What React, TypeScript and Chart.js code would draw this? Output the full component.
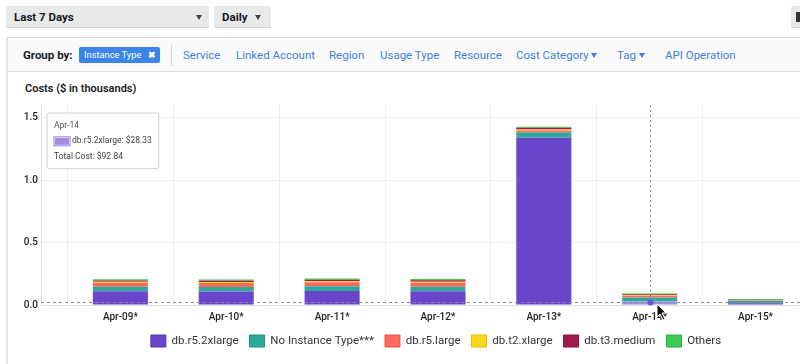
import React, { useEffect, useRef } from "react";
import { Chart, registerables, Tooltip } from "chart.js";

Chart.register(...registerables);

// ---------- data ----------
const categories = ["Apr-09*", "Apr-10*", "Apr-11*", "Apr-12*", "Apr-13*", "Apr-14*", "Apr-15*"];
const seriesNames = ["db.r5.2xlarge", "No Instance Type***", "db.r5.large", "db.t2.xlarge", "db.t3.medium", "Others"];
const r5_2xlarge = [0.11, 0.108, 0.112, 0.11, 1.338, 0.02833, 0.014];
const noInstanceType = [0.037, 0.036, 0.038, 0.037, 0.043, 0.032, 0.02];
const r5_large = [0.032, 0.032, 0.033, 0.032, 0.016, 0.014, 0.005];
const t2_xlarge = [0.008, 0.008, 0.008, 0.008, 0.008, 0.006, 0.002];
const t3_medium = [0.01, 0.01, 0.012, 0.011, 0.013, 0.006, 0.002];
const others = [0.01, 0.01, 0.01, 0.01, 0.008, 0.00651, 0.005];
const yTicks = [0, 0.5, 1.0, 1.5];
const referenceValue = 0.027;
const hoveredIndex = 5;

const seriesValues = [r5_2xlarge, noInstanceType, r5_large, t2_xlarge, t3_medium, others];
const seriesColors = ["#6a46cc", "#2ea99a", "#fa6b5e", "#fdd51b", "#a11a4d", "#3ccb53"];
const seriesBorders = ["#5535b5", "#23907f", "#e25549", "#e6bd00", "#86113c", "#2aae40"];
const hoverColor = "#a28ce4";

const FONT = "Roboto, 'Noto Sans', sans-serif";

const xMin = -0.75;
const xMax = 7.1;

(Tooltip.positioners as any).fixedTopLeft = function (this: any) {
  const ca = this.chart.chartArea;
  return { x: ca.left + 8, y: ca.top + 8, xAlign: "left", yAlign: "top" };
};

const guidePlugin = {
  id: "guides",
  afterDatasetsDraw(chart: any) {
    const { ctx, chartArea, scales } = chart;
    const y = Math.round(scales.y.getPixelForValue(referenceValue)) + 0.5;
    const x = Math.round(scales.x.getPixelForValue(hoveredIndex)) + 0.5;
    ctx.save();
    ctx.strokeStyle = "#8c8c8c";
    ctx.lineWidth = 1;
    ctx.setLineDash([3, 3]);
    ctx.beginPath();
    ctx.moveTo(chartArea.left, y);
    ctx.lineTo(chartArea.right, y);
    ctx.stroke();
    ctx.setLineDash([2, 3]);
    ctx.beginPath();
    ctx.moveTo(x, chartArea.top);
    ctx.lineTo(x, chartArea.bottom);
    ctx.stroke();
    ctx.setLineDash([]);
    ctx.fillStyle = "#6a56d0";
    ctx.beginPath();
    ctx.arc(x, y, 3, 0, Math.PI * 2);
    ctx.fill();
    ctx.restore();
  },
};

function Caret({ left, top, color = "#444" }: { left: number; top: number; color?: string }) {
  return (
    <div
      style={{
        position: "absolute",
        left,
        top,
        width: 0,
        height: 0,
        borderLeft: "3.5px solid transparent",
        borderRight: "3.5px solid transparent",
        borderTop: `5px solid ${color}`,
      }}
    />
  );
}

function Link({ left, text }: { left: number; text: string }) {
  return (
    <span
      style={{
        position: "absolute",
        left,
        top: 47,
        lineHeight: "16px",
        fontSize: 11.5,
        color: "#3f7fd9",
        whiteSpace: "nowrap",
      }}
    >
      {text}
    </span>
  );
}

export default function App() {
  const canvasRef = useRef<HTMLCanvasElement>(null);

  useEffect(() => {
    const canvas = canvasRef.current;
    if (!canvas) return;
    const datasets = seriesNames.map((name, si) => ({
      type: "bar" as const,
      label: name,
      data: seriesValues[si].map((v, i) => ({ x: i, y: v })),
      backgroundColor:
        si === 0
          ? seriesValues[si].map((_, i) => (i === hoveredIndex ? hoverColor : seriesColors[si]))
          : seriesColors[si],
      borderWidth: 0,
      categoryPercentage: 0.52,
      barPercentage: 1,
    }));

    const chart = new Chart(canvas, {
      type: "bar",
      data: { datasets },
      plugins: [guidePlugin],
      options: {
        animation: false,
        responsive: false,
        devicePixelRatio: 1,
        events: [],
        layout: { padding: { top: 8, left: 0, right: 0, bottom: 7 } },
        scales: {
          x: {
            type: "linear",
            stacked: true,
            min: xMin,
            max: xMax,
            offset: false,
            afterBuildTicks: (s: any) => {
              s.ticks = categories.map((_, i) => ({ value: i }));
            },
            afterFit: (s: any) => {
              s.height = s.height - 5;
            },
            ticks: {
              autoSkip: false,
              maxRotation: 0,
              padding: 6,
              color: "#222",
              font: { family: FONT, size: 10, weight: "500" },
              callback: (v: any) => categories[Number(v)] ?? "",
            },
            grid: { color: "#efefef", drawTicks: false },
            border: { color: "#dedede" },
          },
          y: {
            stacked: true,
            min: 0,
            max: 1.6,
            afterBuildTicks: (s: any) => {
              s.ticks = yTicks.map((v) => ({ value: v }));
            },
            afterFit: (s: any) => {
              s.width = 41;
            },
            ticks: {
              padding: 3,
              color: "#222",
              font: { family: FONT, size: 10, weight: "500" },
              callback: (v: any) => Number(v).toFixed(1),
            },
            grid: { color: "#efefef", drawTicks: false },
            border: { color: "#e3e3e3" },
          },
        },
        plugins: {
          legend: {
            position: "bottom",
            labels: {
              boxWidth: 15,
              boxHeight: 12,
              padding: 11,
              color: "#333",
              font: { family: FONT, size: 11.5 },
              generateLabels: (c: any) => {
                const items = (Chart.defaults.plugins.legend.labels as any).generateLabels(c);
                return items.map((it: any, i: number) => ({
                  ...it,
                  fillStyle: seriesColors[i],
                  strokeStyle: seriesBorders[i],
                  lineWidth: 1,
                }));
              },
            },
          },
          tooltip: {
            enabled: true,
            position: "fixedTopLeft" as any,
            caretSize: 0,
            caretPadding: 0,
            backgroundColor: "#ffffff",
            borderColor: "#cfcfcf",
            borderWidth: 1,
            cornerRadius: 2,
            titleColor: "#555",
            bodyColor: "#444",
            footerColor: "#444",
            titleFont: { family: FONT, size: 8.5, weight: "normal" },
            bodyFont: { family: FONT, size: 8.5 },
            footerFont: { family: FONT, size: 8.5, weight: "normal" },
            padding: { top: 8, bottom: 7, left: 7, right: 7 },
            titleMarginBottom: 5,
            footerMarginTop: 5,
            boxWidth: 16,
            boxHeight: 9,
            boxPadding: 0,
            displayColors: true,
            callbacks: {
              title: (items: any[]) => categories[items[0].dataIndex].replace("*", ""),
              label: (item: any) => `${item.dataset.label}: $${(item.parsed.y * 1000).toFixed(2)}`,
              labelColor: () => ({ borderColor: "#9781dc", backgroundColor: hoverColor }),
              footer: (items: any[]) => {
                const idx = items[0].dataIndex;
                const total = seriesValues.reduce((s, arr) => s + arr[idx], 0);
                return `Total Cost: $${(total * 1000).toFixed(2)}`;
              },
            },
          },
        },
      } as any,
    });

    chart.tooltip?.setActiveElements([{ datasetIndex: 0, index: hoveredIndex }], { x: 0, y: 0 });
    chart.update();

    return () => chart.destroy();
  }, []);

  const btn = {
    position: "absolute" as const,
    top: 6,
    height: 22,
    background: "#e8e9e9",
    borderRadius: 2,
    boxShadow: "inset 0 -1px 0 #cfd0d0",
  };

  return (
    <div
      style={{
        position: "absolute",
        left: 0,
        top: 0,
        width: 800,
        height: 364,
        overflow: "hidden",
        background: "#fff",
        fontFamily: FONT,
        color: "#16191f",
      }}
    >
      {/* top dropdowns */}
      <div style={{ ...btn, left: 6, width: 203 }}>
        <span style={{ position: "absolute", left: 8, top: 0, lineHeight: "22px", fontSize: 11.5, fontWeight: 700 }}>
          Last 7 Days
        </span>
        <Caret left={190} top={9} />
      </div>
      <div style={{ ...btn, left: 214, width: 57 }}>
        <span style={{ position: "absolute", left: 8, top: 0, lineHeight: "22px", fontSize: 11.5, fontWeight: 700 }}>
          Daily
        </span>
        <Caret left={41} top={9} />
      </div>
      <div style={{ ...btn, left: 791, width: 30 }}>
        <div style={{ position: "absolute", left: 5, top: 6, width: 4, height: 10, background: "#333" }} />
      </div>

      {/* panel */}
      <div
        style={{
          position: "absolute",
          left: 6,
          top: 37,
          width: 1000,
          height: 400,
          borderTop: "1px solid #dcdcdc",
          borderLeft: "2px solid #e4e4e4",
          boxSizing: "border-box",
        }}
      >
        <div
          style={{
            position: "absolute",
            left: 0,
            top: 0,
            right: 0,
            height: 33,
            background: "#fafafa",
            borderBottom: "1px solid #e2e2e2",
          }}
        />
      </div>

      <span
        style={{ position: "absolute", left: 23, top: 47, lineHeight: "16px", fontSize: 11.5, fontWeight: 700 }}
      >
        Group by:
      </span>
      <div
        style={{
          position: "absolute",
          left: 79,
          top: 47,
          width: 81,
          height: 16,
          background: "#3b84e8",
          borderRadius: 2,
          color: "#fff",
        }}
      >
        <span style={{ position: "absolute", left: 5, top: 0, lineHeight: "16px", fontSize: 9.3, whiteSpace: "nowrap" }}>
          Instance Type
        </span>
        <span style={{ position: "absolute", left: 69, top: 0, lineHeight: "16px", fontSize: 8.5, fontWeight: 700 }}>
          ✖
        </span>
      </div>
      <div style={{ position: "absolute", left: 171, top: 45, width: 1, height: 21, background: "#d6d6d6" }} />

      <Link left={183} text="Service" />
      <Link left={236} text="Linked Account" />
      <Link left={329} text="Region" />
      <Link left={380} text="Usage Type" />
      <Link left={454} text="Resource" />
      <Link left={516} text="Cost Category" />
      <Caret left={591} top={53} color="#3f7fd9" />
      <Link left={617} text="Tag" />
      <Caret left={639} top={53} color="#3f7fd9" />
      <Link left={665} text="API Operation" />

      <span
        style={{
          position: "absolute",
          left: 25,
          top: 81,
          lineHeight: "16px",
          fontSize: 11,
          fontWeight: 600,
          color: "#16191f",
          whiteSpace: "nowrap",
        }}
      >
        Costs ($ in thousands)
      </span>

      <canvas
        ref={canvasRef}
        width={872}
        height={268}
        style={{ position: "absolute", left: 0, top: 96, width: 872, height: 268 }}
      />

      <svg style={{ position: "absolute", left: 656, top: 303 }} width="12" height="18" viewBox="0 0 12 18">
        <polygon points="1,1 1,14 4,11 7,17 9,16 6,10 10,10" fill="#111" stroke="#fff" strokeWidth="1" />
      </svg>
    </div>
  );
}
